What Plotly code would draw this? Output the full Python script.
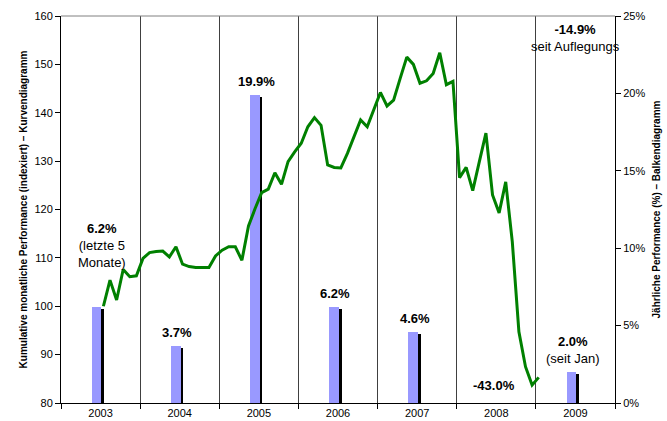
import plotly.graph_objects as go
import pandas as pd

# ---------------- data ----------------
years = ["2003", "2004", "2005", "2006", "2007", "2008", "2009"]
annual_perf = [6.2, 3.7, 19.9, 6.2, 4.6, -43.0, 2.0]          # % (right axis)
annual_notes = ["(letzte 5<br>Monate)", "", "", "", "", "", "(seit Jan)"]
pct_ticks = [0, 5, 10, 15, 20, 25]
pct_tick_labels = ["0%", "5%", "10%", "15%", "20%", "25%"]

# monthly cumulative index, Jul 2003 .. Jan 2009 (left axis)
month_start = "2003-07"
index_values = [
    100.0, 105.4, 101.3, 107.6, 106.1, 106.3,              # 2003 Jul-Dec
    109.9, 111.1, 111.3, 111.4, 110.2, 112.3,              # 2004 Jan-Jun
    108.7, 108.2, 108.0, 108.0, 108.0, 110.4,              # 2004 Jul-Dec
    111.6, 112.3, 112.3, 109.5, 116.6, 120.2,              # 2005 Jan-Jun
    123.5, 124.2, 127.6, 125.2, 129.9, 131.9,              # 2005 Jul-Dec
    133.7, 137.1, 139.0, 137.4, 129.2, 128.7,              # 2006 Jan-Jun
    128.6, 131.6, 135.0, 138.5, 137.1, 140.5,              # 2006 Jul-Dec
    144.2, 141.4, 142.6, 147.1, 151.5, 150.0,              # 2007 Jan-Jun
    146.1, 146.6, 148.1, 152.4, 145.8, 146.5,              # 2007 Jul-Dec
    126.6, 128.7, 123.9, 129.9, 135.8, 123.0,              # 2008 Jan-Jun
    119.3, 125.7, 113.3, 94.7, 87.5, 83.7,                 # 2008 Jul-Dec
    85.3,                                                  # 2009 Jan
]
total_label = "<b>-14.9%</b><br>seit Auflegungs"

# ---------------- styles ----------------
BAR_BLUE = "#9999FF"
LINE_GREEN = "#008000"
FONT = "Liberation Sans, Arial, sans-serif"

months = pd.date_range(month_start, periods=len(index_values), freq="MS")
first_year = int(years[0])
line_x = [(d.year - first_year) * 12 + (d.month - 1) + 0.43 for d in months]

year_center = [i * 12 + 6 for i in range(len(years))]
bar_shift = -0.6       # bar drawn slightly left of the category centre
bar_x = [c + bar_shift for c in year_center]
shadow_x = [c + bar_shift + 0.42 for c in year_center]
shadow_vals = [v - 0.12 for v in annual_perf]

fig = go.Figure()

# shadow of bars
fig.add_trace(go.Bar(x=shadow_x, y=shadow_vals, width=1.45,
                     marker=dict(color="black", line=dict(width=0)),
                     yaxis="y", hoverinfo="skip", showlegend=False))
# bars
fig.add_trace(go.Bar(x=bar_x, y=annual_perf, width=1.45,
                     marker=dict(color=BAR_BLUE, line=dict(width=0)),
                     yaxis="y", showlegend=False))
# cumulative line (on overlaying axis -> drawn on top)
fig.add_trace(go.Scatter(x=line_x, y=index_values, mode="lines",
                         line=dict(color=LINE_GREEN, width=3),
                         yaxis="y2", showlegend=False))

# annotations for bars
for i, (v, note) in enumerate(zip(annual_perf, annual_notes)):
    txt = f"<b>{v:.1f}%</b>" + (f"<br>{note}" if note else "")
    if i == 0:
        y, anchor, shift = 10.2, "middle", 0
    elif v < 0:
        y, anchor, shift = 1.12, "middle", 0
    else:
        y, anchor, shift = v, "bottom", 4
    fig.add_annotation(x=year_center[i] - 0.4 if i else year_center[i] + 0.2,
                       y=y, xref="x", yref="y", yanchor=anchor, yshift=shift,
                       text=txt, showarrow=False,
                       font=dict(family=FONT, size=13, color="black"))

fig.add_annotation(x=year_center[-1], y=23.58, xref="x", yref="y",
                   yanchor="middle", text=total_label, showarrow=False,
                   font=dict(family=FONT, size=13, color="black"))

# top border
fig.add_shape(type="line", xref="paper", yref="paper", x0=0, x1=1, y0=1, y1=1,
              line=dict(color="#808080", width=1))

fig.update_layout(
    width=667, height=421,
    margin=dict(l=61, r=52, t=16, b=18, autoexpand=False),
    paper_bgcolor="white", plot_bgcolor="white",
    barmode="overlay", bargap=0,
    font=dict(family=FONT, size=11, color="black"),
    xaxis=dict(range=[0, 7 * 12], tickmode="array", tickvals=year_center,
               ticktext=years, automargin=False,
               ticks="", showgrid=False, showline=True, linecolor="black",
               linewidth=1, zeroline=False,
               tickfont=dict(size=11),
               minor=dict(tickmode="array",
                          tickvals=[12 * k for k in range(0, 8)],
                          ticks="outside", ticklen=5, tickcolor="black",
                          showgrid=True, gridcolor="#404040", gridwidth=1)),
    yaxis=dict(side="right", range=[0, 25], tickmode="array",
               tickvals=pct_ticks, ticktext=pct_tick_labels, automargin=False,
               ticks="outside", ticklen=5, tickcolor="black",
               showline=True, linecolor="black", linewidth=1, showgrid=False,
               zeroline=False, tickfont=dict(size=11),
               title=dict(text="<b>Jährliche Performance (%) – Balkendiagramm</b>",
                          font=dict(size=10), standoff=8)),
    yaxis2=dict(side="left", overlaying="y", range=[80, 160], dtick=10,
                ticks="outside", ticklen=5, tickcolor="black", automargin=False,
                showline=True, linecolor="black", linewidth=1, showgrid=False,
                zeroline=False, tickfont=dict(size=11),
                title=dict(text="<b>Kumulative monatliche Performance (indexiert) – Kurvendiagramm</b>",
                           font=dict(size=10), standoff=4)),
)

fig.write_html("out.html",
               config={"displayModeBar": False},
               post_script="document.body.style.margin='0';"
                           "document.body.style.overflow='hidden';")
